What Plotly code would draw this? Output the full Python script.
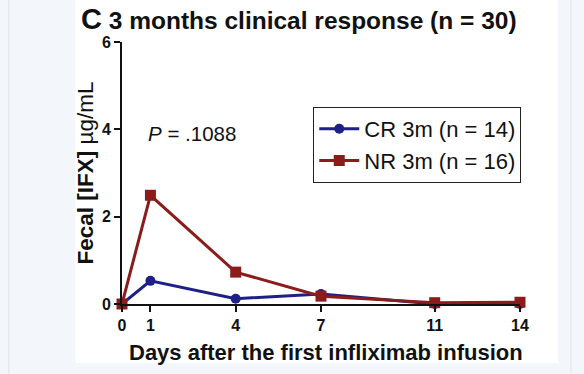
import plotly.graph_objects as go

days = [0, 1, 4, 7, 11, 14]
cr_values = [0.0, 0.53, 0.12, 0.23, 0.0, 0.0]
nr_values = [0.0, 2.49, 0.73, 0.18, 0.03, 0.04]
x_ticks = [0, 1, 4, 7, 11, 14]
y_ticks = [0, 2, 4, 6]

W, H = 584, 374
L, R, T, B = 121.5, 64, 42, 70
pw, ph = W - L - R, H - T - B

def px(x):
    return (x - L) / pw

def py(y):
    return (H - B - y) / ph

blue = "#1f1f8a"
red = "#8c1c1c"

fig = go.Figure()
fig.add_trace(go.Scatter(x=days, y=cr_values, mode="lines+markers", name="CR 3m (n = 14)",
                         line=dict(color=blue, width=3), marker=dict(symbol="circle", size=10, color=blue),
                         cliponaxis=False))
fig.add_trace(go.Scatter(x=days, y=nr_values, mode="lines+markers", name="NR 3m (n = 16)",
                         line=dict(color=red, width=3), marker=dict(symbol="square", size=11, color=red),
                         cliponaxis=False))

font = "Arial, Liberation Sans, Helvetica, sans-serif"

fig.update_layout(
    width=W, height=H,
    margin=dict(l=L, r=R, t=T, b=B),
    paper_bgcolor="#f3f6fa",
    plot_bgcolor="white",
    font=dict(family=font, color="#111111"),
    showlegend=True,
    legend=dict(x=px(313), y=py(107), xanchor="left", yanchor="top",
                bgcolor="white", bordercolor="#222222", borderwidth=1,
                font=dict(size=22, family=font, color="#111111"),
                itemwidth=40, tracegroupgap=0),
    xaxis=dict(range=[0, 14], tickvals=x_ticks, ticks="outside", ticklen=6, tickwidth=2,
               showline=True, linewidth=2, linecolor="#111111", tickcolor="#111111",
               showgrid=False, zeroline=False,
               tickfont=dict(size=16, family=font, color="#111111", weight="bold")),
    yaxis=dict(range=[0, 6], tickvals=y_ticks, ticks="outside", ticklen=6, tickwidth=2,
               showline=True, linewidth=2, linecolor="#111111", tickcolor="#111111",
               showgrid=False, zeroline=False,
               tickfont=dict(size=16, family=font, color="#111111", weight="bold")),
)

shapes = [
    dict(type="rect", xref="paper", yref="paper", x0=px(75), x1=px(558), y0=py(363), y1=py(-5),
         fillcolor="white", line=dict(width=0), layer="below"),
    dict(type="line", xref="paper", yref="paper", x0=px(8), x1=px(8), y0=py(0), y1=py(374),
         line=dict(color="#e2e7ed", width=1), layer="below"),
    dict(type="line", xref="paper", yref="paper", x0=px(571), x1=px(571), y0=py(0), y1=py(374),
         line=dict(color="#e2e7ed", width=1), layer="below"),
]
fig.update_layout(shapes=shapes)

annotations = [
    dict(text="<b><span style='font-size:29px'>C</span> 3 months clinical response (n = 30)</b>",
         xref="paper", yref="paper", x=px(78), y=py(1), xanchor="left", yanchor="top",
         showarrow=False, font=dict(size=24.5, family=font, color="#111111")),
    dict(text="<b>Fecal [IFX]</b> µg/mL", xref="paper", yref="paper", x=px(84), y=py(173),
         xanchor="center", yanchor="middle", textangle=-90, showarrow=False,
         font=dict(size=22.5, family=font, color="#111111")),
    dict(text="<b>Days after the first infliximab infusion</b>", xref="paper", yref="paper",
         x=px(326), y=py(352), xanchor="center", yanchor="middle", showarrow=False,
         font=dict(size=22, family=font, color="#111111")),
    dict(text="<i>P</i> = .1088", xref="paper", yref="paper", x=px(146), y=py(133),
         xanchor="left", yanchor="middle", showarrow=False,
         font=dict(size=20.5, family=font, color="#111111")),
]
fig.update_layout(annotations=annotations)

fig.write_html("out.html", config={"displayModeBar": False},
               post_script="document.body.style.margin='0px';document.body.style.background='#f3f6fa';")
